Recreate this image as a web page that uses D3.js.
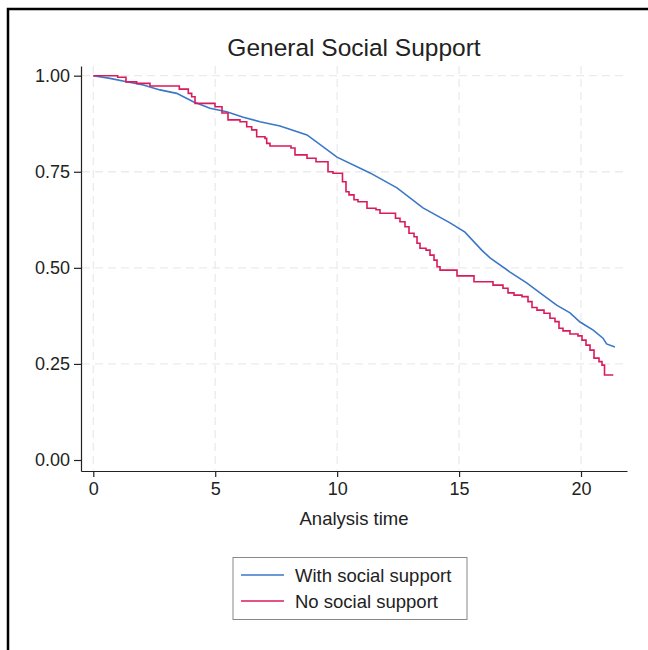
<!DOCTYPE html>
<html>
<head>
<meta charset="utf-8">
<script src="https://cdn.jsdelivr.net/npm/d3@7"></script>
<style>
  body { margin: 0; background: #fff; }
  text { font-family: "Liberation Sans", Arial, sans-serif; fill: #222; }
</style>
</head>
<body>
<script>

var title = "General Social Support";
var xLabel = "Analysis time";
var seriesNames = ["With social support", "No social support"];
var xTicks = [0, 5, 10, 15, 20];
var yTicks = [0, 0.25, 0.5, 0.75, 1];

// with social support (KM estimate)
var withTime = [0, 0.685, 1.37, 2.05, 2.735, 3.42, 4.10, 4.786, 5.47, 6.15, 6.836, 7.656, 8.764, 9.994, 11.347, 12.454, 13.52, 14.63, 15.24, 15.928, 16.27, 17.09, 17.77, 18.32, 19.0, 19.55, 19.96, 20.5, 20.9, 21.05, 21.39];
var withSurv = [1.0, 0.993, 0.984, 0.976, 0.963, 0.954, 0.932, 0.915, 0.906, 0.892, 0.880, 0.869, 0.846, 0.788, 0.747, 0.708, 0.656, 0.617, 0.593, 0.546, 0.526, 0.489, 0.461, 0.435, 0.403, 0.383, 0.359, 0.338, 0.317, 0.302, 0.294];

// no social support
var noTime = [0, 1.0, 1.341, 1.78, 2.325, 3.527, 3.896, 4.035, 4.171, 4.991, 5.278, 5.524, 6.016, 6.291, 6.496, 6.70, 7.041, 7.111, 7.246, 8.107, 8.271, 8.764, 9.133, 9.625, 9.83, 10.219, 10.363, 10.486, 10.691, 10.855, 11.224, 11.593, 11.757, 12.393, 12.577, 12.782, 12.946, 13.152, 13.275, 13.398, 13.644, 13.808, 13.972, 14.095, 14.218, 14.915, 15.612, 16.391, 16.801, 17.006, 17.252, 17.58, 17.826, 17.99, 18.195, 18.482, 18.728, 18.933, 19.097, 19.261, 19.548, 19.876, 20.04, 20.205, 20.369, 20.533, 20.738, 20.861, 20.964, 21.325];
var noSurv = [1.0, 0.996, 0.984, 0.980, 0.973, 0.965, 0.954, 0.945, 0.928, 0.919, 0.903, 0.885, 0.880, 0.867, 0.859, 0.841, 0.837, 0.824, 0.817, 0.812, 0.794, 0.785, 0.776, 0.750, 0.746, 0.724, 0.698, 0.690, 0.677, 0.672, 0.655, 0.651, 0.642, 0.629, 0.620, 0.607, 0.590, 0.581, 0.564, 0.551, 0.546, 0.533, 0.520, 0.503, 0.494, 0.479, 0.464, 0.455, 0.447, 0.435, 0.429, 0.425, 0.412, 0.397, 0.390, 0.382, 0.369, 0.360, 0.343, 0.336, 0.328, 0.323, 0.312, 0.299, 0.286, 0.265, 0.256, 0.247, 0.221, 0.221];

var colors = ["#3b77c8", "#d91b5c"];

var width = 648;
var height = 650;

var svg = d3.select("body")
      .append("svg")
      .attr("width", width)
      .attr("height", height);

// outer frame (only top and left edges fall inside the picture)
svg.append("rect")
  .attr("x", 8)
  .attr("y", 9)
  .attr("width", 700)
  .attr("height", 700)
  .attr("fill", "none")
  .attr("stroke", "#000")
  .attr("stroke-width", 2.5);

var x = d3.scaleLinear().domain([-0.504, 21.886]).range([81, 627]);
var y = d3.scaleLinear().domain([-0.0286, 1.0252]).range([471, 66]);

// grid
svg.append("g").selectAll("line.hgrid")
  .data(yTicks.filter(function(d) { return d > 0; }))
  .enter().append("line")
    .attr("x1", 82)
    .attr("x2", 624)
    .attr("y1", function(d) { return y(d); })
    .attr("y2", function(d) { return y(d); })
    .attr("stroke", "#ebebeb")
    .attr("stroke-width", 1.3)
    .attr("stroke-dasharray", "8,5");

svg.append("g").selectAll("line.vgrid")
  .data(xTicks)
  .enter().append("line")
    .attr("x1", function(d) { return x(d); })
    .attr("x2", function(d) { return x(d); })
    .attr("y1", 66)
    .attr("y2", 470)
    .attr("stroke", "#ebebeb")
    .attr("stroke-width", 1.3)
    .attr("stroke-dasharray", "8,5");

// axes
var yAxis = svg.append("g")
  .attr("transform", "translate(81,0)")
  .call(d3.axisLeft(y).tickValues(yTicks).tickFormat(d3.format(".2f")).tickSize(7).tickPadding(4).tickSizeOuter(0));

var xAxis = svg.append("g")
  .attr("transform", "translate(0,471)")
  .call(d3.axisBottom(x).tickValues(xTicks).tickFormat(d3.format("d")).tickSize(6).tickPadding(5).tickSizeOuter(0));

[yAxis, xAxis].forEach(function(a) {
  a.selectAll("path, line").attr("stroke", "#222").attr("stroke-width", 1.2);
  a.selectAll("text")
    .attr("font-family", "Liberation Sans, Arial, sans-serif")
    .attr("font-size", "18px")
    .attr("fill", "#222");
});

// curves
var series = [
  { name: seriesNames[0], time: withTime, surv: withSurv, curve: d3.curveLinear },
  { name: seriesNames[1], time: noTime, surv: noSurv, curve: d3.curveStepAfter }
];

series.forEach(function(s, i) {
  var pts = s.time.map(function(t, j) { return [t, s.surv[j]]; });
  var line = d3.line()
    .x(function(d) { return x(d[0]); })
    .y(function(d) { return y(d[1]); })
    .curve(s.curve);
  svg.append("path")
    .attr("d", line(pts))
    .attr("fill", "none")
    .attr("stroke", colors[i])
    .attr("stroke-width", 1.6);
});

// titles
svg.append("text")
  .attr("x", 354)
  .attr("y", 56)
  .attr("text-anchor", "middle")
  .attr("font-size", "24.5px")
  .text(title);

svg.append("text")
  .attr("x", 354)
  .attr("y", 525)
  .attr("text-anchor", "middle")
  .attr("font-size", "18.5px")
  .text(xLabel);

// legend
var legend = svg.append("g");
legend.append("rect")
  .attr("x", 233)
  .attr("y", 557.5)
  .attr("width", 234)
  .attr("height", 62)
  .attr("fill", "#fff")
  .attr("stroke", "#888")
  .attr("stroke-width", 1);

var item = legend.selectAll("g.item")
  .data(seriesNames)
  .enter().append("g")
    .attr("transform", function(d, i) { return "translate(0," + (575 + i * 26) + ")"; });

item.append("line")
  .attr("x1", 241)
  .attr("x2", 284)
  .attr("stroke", function(d, i) { return colors[i]; })
  .attr("stroke-width", 1.6);

item.append("text")
  .attr("x", 295)
  .attr("y", 7)
  .attr("font-size", "18.5px")
  .text(function(d) { return d; });

</script>
</body>
</html>
